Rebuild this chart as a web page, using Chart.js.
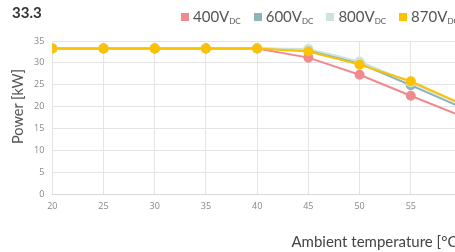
<!DOCTYPE html>
<html>
<head>
<meta charset="utf-8">
<script src="https://cdn.jsdelivr.net/npm/chart.js@4"></script>
<style>
  html, body { margin: 0; padding: 0; width: 455px; height: 252px; overflow: hidden; background: #fff; }
  #wrap { position: absolute; left: 0; top: 0; width: 478px; height: 255px; }
  #head { position: absolute; left: 12px; top: 3px; font: bold 15px Lato, sans-serif; color: #333; }
  #legend { position: absolute; left: 181px; top: 7px; white-space: nowrap; font: 15px Lato, sans-serif; color: #555; }
  #legend span.item { display: inline-block; margin-right: 13px; }
  #legend i { display: inline-block; width: 8px; height: 8px; margin-right: 4px; vertical-align: 1px; }
  #legend sub { font-size: 8px; vertical-align: -2px; }
  #ytitle { position: absolute; left: 9px; top: 69px; writing-mode: vertical-rl; transform: rotate(180deg); white-space: nowrap; font: 400 14.5px Lato, sans-serif; color: #555; }
</style>
</head>
<body>
<div id="wrap">
  <canvas id="chart"></canvas>
</div>
<div id="head">33.3</div>
<div id="legend"></div>
<div id="ytitle">Power [kW]</div>
<script>
const temps = [20, 25, 30, 35, 40, 45, 50, 55, 60];
const seriesNames = ['400', '600', '800', '870'];
const v400 = [33.3, 33.3, 33.3, 33.3, 33.3, 31.2, 27.3, 22.5, 17.8];
const v600 = [33.3, 33.3, 33.3, 33.3, 33.3, 33.0, 29.9, 24.9, 19.8];
const v800 = [33.3, 33.3, 33.3, 33.3, 33.3, 33.2, 30.3, 25.5, 20.4];
const v870 = [33.3, 33.3, 33.3, 33.3, 33.3, 32.6, 29.6, 25.8, 20.6];
const yTicks = [0, 5, 10, 15, 20, 25, 30, 35];
const colors = ['#f08a8f', '#8fb3bb', '#cce4dc', '#fcc100'];

const allValues = [v400, v600, v800, v870];

const legend = document.getElementById('legend');
seriesNames.forEach((n, i) => {
  const s = document.createElement('span');
  s.className = 'item';
  s.innerHTML = '<i style="background:' + colors[i] + '"></i>' + n + 'V<sub>DC</sub>';
  legend.appendChild(s);
});

const ctx = document.getElementById('chart').getContext('2d');
new Chart(ctx, {
  type: 'line',
  data: {
    datasets: allValues.map((vals, i) => ({
      label: seriesNames[i] + 'V',
      data: temps.map((t, j) => ({ x: t, y: vals[j] })),
      borderColor: colors[i],
      backgroundColor: colors[i],
      borderWidth: 2,
      pointRadius: 4,
      pointHoverRadius: 4,
      tension: 0,
      // last series drawn on top
      order: allValues.length - 1 - i
    }))
  },
  options: {
    responsive: true,
    maintainAspectRatio: false,
    animation: false,
    layout: { padding: { top: 41, right: 16, left: 26, bottom: 0 } },
    plugins: {
      legend: { display: false },
      tooltip: { enabled: false }
    },
    scales: {
      x: {
        type: 'linear',
        min: 20,
        max: 60,
        ticks: { stepSize: 5, color: '#888', font: { family: 'Open Sans', size: 9 }, padding: 7 },
        grid: { color: '#e4e4e4', drawTicks: false },
        border: { color: '#d8d8d8' },
        title: {
          display: true,
          text: 'Ambient temperature [°C]',
          align: 'end',
          color: '#444',
          font: { family: 'Lato', size: 15 },
          padding: { top: 14 }
        }
      },
      y: {
        min: 0,
        max: 35,
        afterBuildTicks: axis => { axis.ticks = yTicks.map(v => ({ value: v })); },
        ticks: { color: '#888', font: { family: 'Open Sans', size: 9 }, padding: 8 },
        grid: { color: '#e4e4e4', drawTicks: false },
        border: { display: false }
      }
    }
  }
});
</script>
</body>
</html>
